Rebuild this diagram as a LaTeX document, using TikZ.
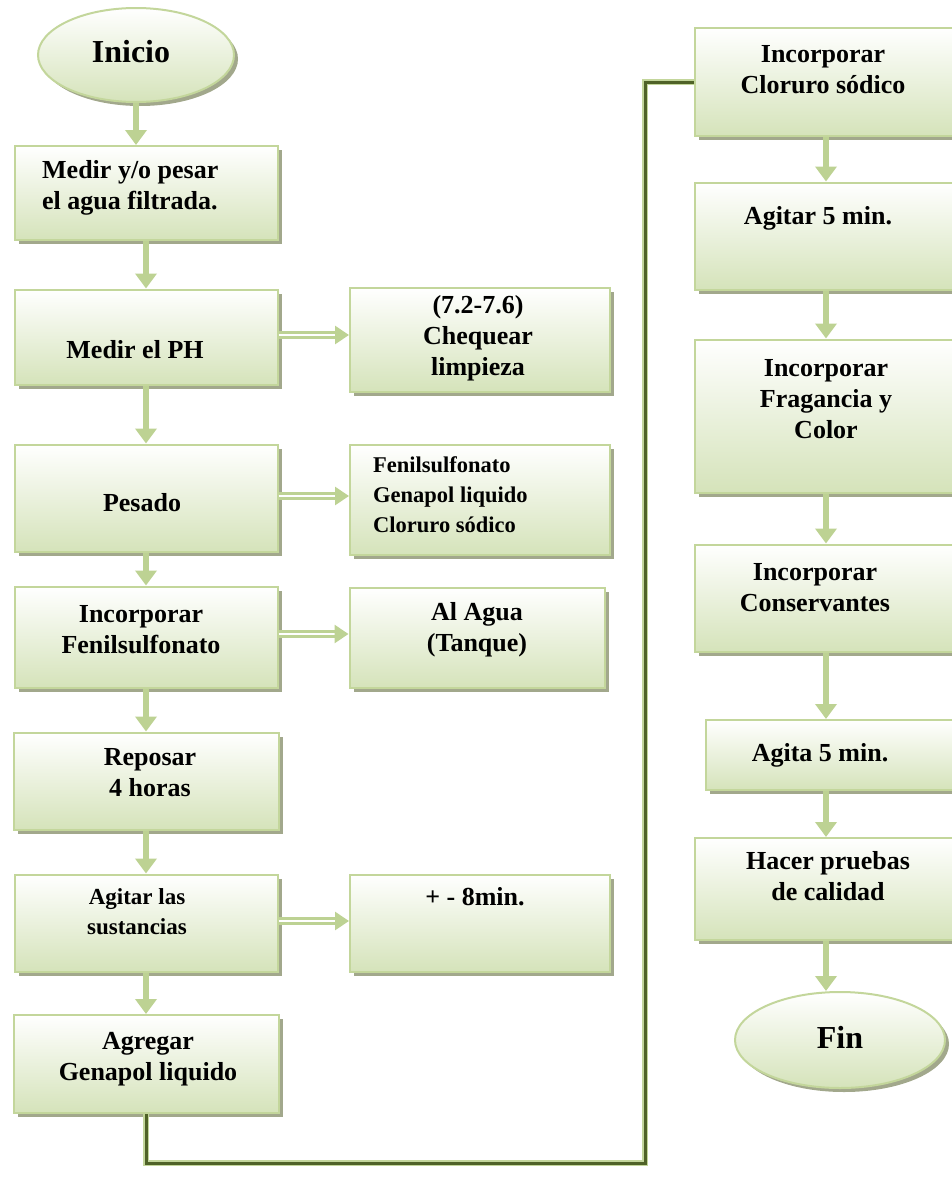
\documentclass[tikz,border=0pt]{standalone}
\usepackage{fontspec}
\setmainfont{Liberation Serif}
\usetikzlibrary{shapes.geometric,shadows,arrows.meta}
\definecolor{verdeborde}{HTML}{C3D69B}
\definecolor{verdefondo}{HTML}{D5E3BA}
\definecolor{verdeflecha}{HTML}{BDD293}
\definecolor{sombra}{HTML}{A2A88C}
\definecolor{oliva}{HTML}{4F6228}

\begin{document}
\begin{tikzpicture}[x=1pt,y=-1pt,
  caja/.style={draw=verdeborde, line width=2pt, top color=white, bottom color=verdefondo,
    drop shadow={shadow xshift=4pt, shadow yshift=-4pt, fill=sombra, opacity=1}},
  elipse/.style={caja, ellipse},
  txt/.style={font=\bfseries\fontsize{26}{31}\selectfont, align=center, inner sep=0pt},
  flecha/.style={draw=verdeflecha, line width=5.5pt, -{Triangle[width=21pt,length=15pt]}},
  dflecha/.style={draw=verdeflecha, double=white, double distance=2pt, line width=2.8pt,
    -{Triangle[width=18pt,length=14pt]}},
  conector/.style={draw=verdeborde, double=oliva, double distance=3pt, line width=1.2pt}]
  \useasboundingbox (0,0) rectangle (952,1194);

  \node[elipse, minimum width=196pt, minimum height=94pt] (inicio) at (136,55) {};
  \node[txt, font=\bfseries\fontsize{32}{36}\selectfont] (t-inicio) at (131,52) {Inicio};

  \node[caja, minimum width=263pt, minimum height=94pt] (medir) at (146,193) {};
  \node[txt, align=left, anchor=west] (t-medir) at (42,188) {Medir y/o pesar\\el agua filtrada.};
  \node[caja, minimum width=263pt, minimum height=95pt] (ph) at (146,337) {};
  \node[txt] (t-ph) at (135,350) {Medir el PH};
  \node[caja, minimum width=263pt, minimum height=107pt] (pesado) at (146,498) {};
  \node[txt] (t-pesado) at (142,503) {Pesado};
  \node[caja, minimum width=263pt, minimum height=101pt] (fenil) at (146,637) {};
  \node[txt] (t-fenil) at (141,630) {Incorporar\\Fenilsulfonato};
  \node[caja, minimum width=265pt, minimum height=97pt] (reposar) at (146,781) {};
  \node[txt] (t-reposar) at (150,773) {Reposar\\4 horas};
  \node[caja, minimum width=263pt, minimum height=97pt] (agitar) at (146,923) {};
  \node[txt, font=\bfseries\fontsize{23}{30}\selectfont] (t-agitar) at (137,912) {Agitar las\\sustancias};
  \node[caja, minimum width=265pt, minimum height=98pt] (agregar) at (146,1064) {};
  \node[txt] (t-agregar) at (148,1059) {Agregar\\Genapol liquido};

  \node[caja, minimum width=260pt, minimum height=104pt] (chequear) at (480,340) {};
  \node[txt] (t-chequear) at (478,338) {(7.2-7.6)\\Chequear\\limpieza};
  \node[caja, minimum width=260pt, minimum height=110pt] (lista) at (480,500) {};
  \node[txt, align=left, anchor=west, font=\bfseries\fontsize{22.5}{30}\selectfont] (t-lista) at (373,495) {Fenilsulfonato\\Genapol liquido\\Cloruro sódico};
  \node[caja, minimum width=255pt, minimum height=100pt] (tanque) at (477,638) {};
  \node[txt] (t-tanque) at (477,630) {Al Agua\\(Tanque)};
  \node[caja, minimum width=260pt, minimum height=97pt] (ocho) at (480,923) {};
  \node[txt] (t-ocho) at (475,897) {+ - 8min.};

  \node[caja, minimum width=262pt, minimum height=108pt] (cloruro) at (826,82) {};
  \node[txt] (t-cloruro) at (823,70) {Incorporar\\Cloruro sódico};
  \node[caja, minimum width=262pt, minimum height=107pt] (cinco) at (826,236) {};
  \node[txt] (t-cinco) at (818,218) {Agitar 5 min.};
  \node[caja, minimum width=262pt, minimum height=153pt] (fragancia) at (826,416) {};
  \node[txt] (t-fragancia) at (826,399) {Incorporar\\Fragancia y\\Color};
  \node[caja, minimum width=262pt, minimum height=107pt] (conserv) at (826,598) {};
  \node[txt] (t-conserv) at (815,588) {Incorporar\\Conservantes};
  \node[caja, minimum width=252pt, minimum height=70pt] (agita) at (832,755) {};
  \node[txt] (t-agita) at (820,755) {Agita 5 min.};
  \node[caja, minimum width=262pt, minimum height=102pt] (pruebas) at (826,889) {};
  \node[txt] (t-pruebas) at (828,876) {Hacer pruebas\\de calidad};
  \node[elipse, minimum width=210pt, minimum height=96pt] (fin) at (840,1040) {};
  \node[txt, font=\bfseries\fontsize{32}{36}\selectfont] (t-fin) at (840,1037) {Fin};

  \draw[flecha] (inicio.south) -- (inicio.south |- medir.north);
  \draw[flecha] (medir.south) -- (ph.north);
  \draw[flecha] (ph.south) -- (pesado.north);
  \draw[flecha] (pesado.south) -- (fenil.north);
  \draw[flecha] (fenil.south) -- (reposar.north);
  \draw[flecha] (reposar.south) -- (agitar.north);
  \draw[flecha] (agitar.south) -- (agregar.north);

  \draw[dflecha] ([yshift=2pt]ph.east) -- ([yshift=2pt]ph.east -| chequear.west);
  \draw[dflecha] ([yshift=2pt]pesado.east) -- ([yshift=2pt]pesado.east -| lista.west);
  \draw[dflecha] ([yshift=3pt]fenil.east) -- ([yshift=3pt]fenil.east -| tanque.west);
  \draw[dflecha] ([yshift=2pt]agitar.east) -- ([yshift=2pt]agitar.east -| ocho.west);

  \coordinate (vuelta) at (645,1163);
  \draw[conector] (agregar.south) |- (vuelta) |- (cloruro.west);

  \draw[flecha] (cloruro.south) -- (cinco.north);
  \draw[flecha] (cinco.south) -- (fragancia.north);
  \draw[flecha] (fragancia.south) -- (conserv.north);
  \draw[flecha] (conserv.south) -- (conserv.south |- agita.north);
  \draw[flecha] (conserv.south |- agita.south) -- (conserv.south |- pruebas.north);
  \draw[flecha] (pruebas.south) -- (pruebas.south |- fin.north);
\end{tikzpicture}
\end{document}
